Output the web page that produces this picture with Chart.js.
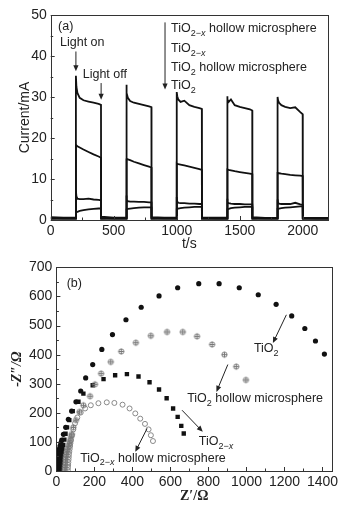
<!DOCTYPE html>
<html>
<head>
<meta charset="utf-8">
<script src="https://cdn.jsdelivr.net/npm/chart.js"></script>
<style>
  body { margin: 0; background: #fff; }
  canvas { display: block; }
</style>
</head>
<body>
<canvas id="currentChart" width="349" height="255"></canvas>
<canvas id="eisChart" width="349" height="250"></canvas>
<script>
// (a) photocurrent on/off cycles
var times = [0, 100,
  199, 200, 204, 212, 230, 260, 300, 340, 380, 399, 400, 500,
  599, 600, 604, 612, 630, 660, 700, 740, 780, 799, 800, 900,
  999, 1000, 1004, 1012, 1030, 1060, 1100, 1140, 1180, 1199, 1200, 1300,
  1399, 1400, 1404, 1412, 1430, 1460, 1500, 1540, 1580, 1599, 1600, 1700,
  1799, 1800, 1804, 1812, 1830, 1860, 1900, 1940, 1980, 1999, 2000, 2100,
  2200];
var hollowTiO2x = [0.7, 0.6,
  0.6, 35.2, 32.5, 31.0, 29.8, 29.2, 28.9, 28.6, 28.3, 28.1, 0.8, 0.6,
  0.6, 33.0, 31.0, 29.8, 29.0, 28.6, 28.3, 28.0, 27.7, 27.5, 0.7, 0.6,
  0.6, 31.2, 30.2, 29.4, 28.8, 29.1, 28.0, 27.6, 27.3, 27.1, 0.6, 0.6,
  0.6, 30.2, 29.4, 28.8, 29.4, 28.0, 27.6, 27.3, 27.0, 26.7, 0.7, 0.5,
  0.5, 30.0, 29.2, 28.6, 28.0, 27.6, 27.3, 27.5, 26.3, 25.8, 0.6, 0.5,
  0.5];
var plainTiO2x = [0.5, 0.4,
  0.4, 18.3, 18.2, 18.0, 17.7, 17.2, 16.6, 16.0, 15.5, 15.2, 0.5, 0.4,
  0.4, 15.0, 14.9, 14.8, 14.6, 14.2, 13.8, 13.4, 13.0, 12.8, 0.5, 0.4,
  0.4, 13.8, 13.7, 13.6, 13.5, 13.3, 13.0, 12.7, 12.4, 12.2, 0.4, 0.4,
  0.4, 12.3, 12.3, 12.2, 12.1, 11.9, 11.7, 11.5, 11.3, 11.2, 0.5, 0.4,
  0.4, 11.5, 11.5, 11.4, 11.3, 11.2, 11.0, 10.9, 10.8, 10.7, 0.4, 0.4,
  0.4];
var hollowTiO2 = [0.4, 0.5,
  0.5, 7.2, 5.8, 5.2, 5.1, 5.1, 5.2, 5.0, 4.9, 4.8, 0.4, 0.5,
  0.5, 6.0, 4.9, 4.6, 4.5, 4.5, 4.4, 4.4, 4.3, 4.3, 0.4, 0.5,
  0.5, 5.6, 4.5, 4.2, 4.1, 4.1, 4.0, 4.0, 3.9, 3.9, 0.5, 0.4,
  0.4, 5.2, 4.3, 4.1, 4.0, 3.9, 3.9, 3.8, 3.8, 3.8, 0.4, 0.5,
  0.5, 5.0, 4.2, 4.0, 3.9, 3.9, 3.9, 4.2, 3.8, 3.7, 0.5, 0.4,
  0.4];
var plainTiO2 = [0.3, 0.3,
  0.3, 1.8, 1.9, 2.0, 2.2, 2.4, 2.6, 2.7, 2.8, 2.8, 0.3, 0.3,
  0.3, 2.5, 2.6, 2.7, 2.8, 2.9, 3.0, 3.1, 3.1, 3.1, 0.3, 0.3,
  0.3, 2.7, 2.8, 2.8, 2.9, 3.0, 3.1, 3.2, 3.2, 3.2, 0.3, 0.3,
  0.3, 2.8, 2.6, 2.7, 2.9, 3.0, 3.1, 3.2, 3.2, 3.2, 0.3, 0.3,
  0.3, 2.7, 2.7, 2.8, 2.9, 3.0, 3.1, 3.2, 3.3, 3.3, 0.3, 0.3,
  0.3];
var timeTicks = [0, 500, 1000, 1500, 2000];
var currentTicks = [0, 10, 20, 30, 40, 50];

// (b) Nyquist plots, Z' and -Z'' in ohm
var tio2Re = [5, 6, 7, 8, 9, 10, 12, 14, 16, 19, 23, 28, 37, 49, 63, 80, 103, 128, 154, 191, 239, 295, 366, 446, 540, 638, 749, 856, 962, 1062, 1156, 1238, 1307, 1363, 1410];
var tio2Im = [3, 11, 19, 28, 37, 46, 56, 66, 76, 86, 96, 106, 126, 150, 178, 206, 238, 275, 320, 366, 418, 469, 520, 563, 602, 630, 644, 644, 630, 606, 573, 533, 490, 447, 402];
var tio2HollowRe = [44, 45, 46, 47, 48, 50, 52, 55, 59, 64, 68, 72, 77, 81, 89, 103, 121, 142, 177, 203, 235, 286, 341, 418, 497, 582, 665, 740, 819, 884, 946, 997];
var tio2HollowIm = [3, 12, 21, 30, 39, 48, 57, 66, 75, 85, 95, 106, 117, 127, 150, 175, 203, 226, 257, 298, 335, 375, 411, 441, 465, 478, 478, 463, 435, 400, 359, 313];
var tio2xRe = [20, 21, 22, 23, 24, 25, 27, 29, 32, 36, 42, 48, 56, 68, 86, 116, 142, 191, 248, 309, 371, 432, 490, 540, 580, 614, 638, 657, 670];
var tio2xIm = [2, 10, 19, 28, 37, 46, 56, 66, 77, 90, 108, 128, 150, 175, 206, 238, 266, 295, 316, 329, 333, 325, 305, 280, 250, 215, 186, 155, 129];
var tio2xHollowRe = [60, 61, 62, 63, 64, 65, 66, 68, 70, 72, 74, 77, 82, 89, 98, 110, 128, 151, 181, 221, 265, 305, 348, 385, 415, 441, 466, 485, 497, 508];
var tio2xHollowIm = [3, 12, 21, 30, 39, 48, 57, 66, 76, 86, 96, 106, 123, 143, 164, 184, 201, 215, 226, 233, 236, 234, 228, 215, 198, 180, 162, 143, 123, 103];
var reTicks = [0, 200, 400, 600, 800, 1000, 1200, 1400];
var imTicks = [0, 100, 200, 300, 400, 500, 600, 700];

var SANS = '"Liberation Sans", Arial, sans-serif';
var SERIF = '"Liberation Serif", "Times New Roman", serif';
Chart.defaults.font.family = SANS;
Chart.defaults.font.size = 14;
Chart.defaults.color = '#222';

function pairs(xs, ys) {
  return xs.map(function (v, i) { return { x: v, y: ys[i] }; });
}

function fixedTicks(values) {
  return function (s) { s.ticks = values.map(function (v) { return { value: v }; }); };
}

function plain(v) { return String(v); }

// text with _{...} subscripts, x inside subscript in italics
function chem(ctx, str, x, y, size) {
  var parts = str.split(/_\{([^}]*)\}/);
  ctx.textBaseline = 'middle';
  ctx.textAlign = 'left';
  ctx.fillStyle = '#222';
  parts.forEach(function (p, i) {
    if (i % 2 === 0) {
      ctx.font = size + 'px ' + SANS;
      ctx.fillText(p, x, y);
      x += ctx.measureText(p).width;
    } else {
      var s = Math.round(size * 0.7);
      for (var ch of p) {
        ctx.font = (ch === 'x' ? 'italic ' : '') + s + 'px ' + SANS;
        ctx.fillText(ch, x, y + size * 0.38);
        x += ctx.measureText(ch).width;
      }
    }
  });
}

function arrow(ctx, x1, y1, x2, y2) {
  var ang = Math.atan2(y2 - y1, x2 - x1), L = 6, W = 2.6;
  ctx.strokeStyle = '#222';
  ctx.fillStyle = '#222';
  ctx.lineWidth = 1;
  ctx.beginPath();
  ctx.moveTo(x1, y1);
  ctx.lineTo(x2 - Math.cos(ang) * L * 0.8, y2 - Math.sin(ang) * L * 0.8);
  ctx.stroke();
  ctx.beginPath();
  ctx.moveTo(x2, y2);
  ctx.lineTo(x2 - Math.cos(ang) * L - Math.sin(ang) * W, y2 - Math.sin(ang) * L + Math.cos(ang) * W);
  ctx.lineTo(x2 - Math.cos(ang) * L + Math.sin(ang) * W, y2 - Math.sin(ang) * L - Math.cos(ang) * W);
  ctx.closePath();
  ctx.fill();
}

// box round the plot with inward ticks
function frameTicks(minorX, minorY) {
  return {
    id: 'frameTicks',
    afterDatasetsDraw: function (chart) {
      var ctx = chart.ctx, a = chart.chartArea, x = chart.scales.x, y = chart.scales.y;
      ctx.save();
      ctx.strokeStyle = '#333';
      ctx.lineWidth = 1;
      ctx.strokeRect(Math.round(a.left) + 0.5, Math.round(a.top) + 0.5,
        Math.round(a.right - a.left), Math.round(a.bottom - a.top));
      ctx.beginPath();
      for (var v = x.min; v <= x.max; v += minorX) {
        var px = Math.round(x.getPixelForValue(v)) + 0.5;
        var len = Math.round(v / minorX) % 2 === 0 ? 4 : 2.5;
        ctx.moveTo(px, a.bottom); ctx.lineTo(px, a.bottom - len);
      }
      for (var w = y.min; w <= y.max; w += minorY) {
        var py = Math.round(y.getPixelForValue(w)) + 0.5;
        var len2 = Math.round(w / minorY) % 2 === 0 ? 4 : 2.5;
        ctx.moveTo(a.left, py); ctx.lineTo(a.left + len2, py);
      }
      ctx.stroke();
      ctx.restore();
    }
  };
}

function notes(arrows, labels, size) {
  return {
    id: 'notes',
    afterDatasetsDraw: function (chart) {
      var ctx = chart.ctx, x = chart.scales.x, y = chart.scales.y;
      ctx.save();
      arrows.forEach(function (a) {
        arrow(ctx, x.getPixelForValue(a[0]), y.getPixelForValue(a[1]),
          x.getPixelForValue(a[2]), y.getPixelForValue(a[3]));
      });
      labels.forEach(function (l) {
        chem(ctx, l[0], x.getPixelForValue(l[1]), y.getPixelForValue(l[2]), size);
      });
      ctx.restore();
    }
  };
}

function plusCircle(r, color) {
  var c = document.createElement('canvas');
  var s = Math.ceil(2 * r + 3);
  c.width = c.height = s;
  var g = c.getContext('2d');
  g.strokeStyle = color;
  g.lineWidth = 1;
  g.beginPath();
  g.arc(s / 2, s / 2, r, 0, 2 * Math.PI);
  g.moveTo(s / 2 - r, s / 2); g.lineTo(s / 2 + r, s / 2);
  g.moveTo(s / 2, s / 2 - r); g.lineTo(s / 2, s / 2 + r);
  g.stroke();
  return c;
}

function lineSet(values) {
  return {
    data: pairs(times, values),
    borderColor: '#111',
    borderWidth: 1.8,
    pointRadius: 0,
    tension: 0
  };
}

//build photocurrent graph
new Chart(document.getElementById('currentChart'), {
  type: 'line',
  data: {
    datasets: [lineSet(hollowTiO2x), lineSet(plainTiO2x), lineSet(hollowTiO2), lineSet(plainTiO2)]
  },
  options: {
    responsive: false,
    animation: false,
    layout: { padding: { top: 15, right: 21, left: 0, bottom: 0 } },
    plugins: { legend: { display: false }, tooltip: { enabled: false } },
    scales: {
      x: {
        type: 'linear', min: 0, max: 2200,
        afterBuildTicks: fixedTicks(timeTicks),
        afterFit: function (s) { s.height = 35; },
        ticks: { padding: 3, maxRotation: 0, autoSkip: false, callback: plain },
        grid: { display: false, drawTicks: false },
        border: { display: false },
        title: { display: true, text: 't/s', padding: { top: 0, bottom: 2 }, font: { size: 14 } }
      },
      y: {
        min: 0, max: 50,
        afterBuildTicks: fixedTicks(currentTicks),
        afterFit: function (s) { s.width = 50.7; },
        ticks: { padding: 4, autoSkip: false, callback: plain },
        grid: { display: false, drawTicks: false },
        border: { display: false },
        title: { display: true, text: 'Current/mA', padding: { top: 17, bottom: 0 }, font: { size: 14 } }
      }
    }
  },
  plugins: [
    frameTicks(250, 5),
    notes(
      [[200, 41.1, 200, 36.3], [400, 33.4, 400, 29.3], [907, 48.2, 907, 31.8]],
      [['(a)', 58, 47.2], ['Light on', 74, 43.2], ['Light off', 254, 35.5],
       ['TiO_{2−x} hollow microsphere', 955, 46.6], ['TiO_{2−x}', 955, 41.7],
       ['TiO_{2} hollow microsphere', 955, 37.1], ['TiO_{2}', 955, 32.8]],
      12.5)
  ]
});

//build impedance graph
new Chart(document.getElementById('eisChart'), {
  type: 'scatter',
  data: {
    datasets: [{
      data: pairs(tio2Re, tio2Im),
      pointStyle: 'circle', pointRadius: 2.6, borderWidth: 0,
      backgroundColor: '#111', borderColor: '#111'
    }, {
      data: pairs(tio2HollowRe, tio2HollowIm),
      pointStyle: plusCircle(2.6, '#777'), pointRadius: 3
    }, {
      data: pairs(tio2xRe, tio2xIm),
      pointStyle: 'rect', pointRadius: 3.1, borderWidth: 0,
      backgroundColor: '#111', borderColor: '#111'
    }, {
      data: pairs(tio2xHollowRe, tio2xHollowIm),
      pointStyle: 'circle', pointRadius: 2.5, borderWidth: 1,
      backgroundColor: 'rgba(255,255,255,0)', borderColor: '#888'
    }]
  },
  options: {
    responsive: false,
    animation: false,
    layout: { padding: { top: 11.7, right: 17, left: 0, bottom: 0 } },
    plugins: { legend: { display: false }, tooltip: { enabled: false } },
    scales: {
      x: {
        type: 'linear', min: 0, max: 1450,
        afterBuildTicks: fixedTicks(reTicks),
        afterFit: function (s) { s.height = 34; },
        ticks: { padding: 3, maxRotation: 0, autoSkip: false, callback: plain },
        grid: { display: false, drawTicks: false },
        border: { display: false },
        title: { display: true, text: 'Z′/Ω', padding: { top: 0, bottom: 0 },
          font: { family: SERIF, size: 14, weight: 'bold' } }
      },
      y: {
        min: 0, max: 700,
        afterBuildTicks: fixedTicks(imTicks),
        afterFit: function (s) { s.width = 56.4; },
        ticks: { padding: 4, autoSkip: false, callback: plain },
        grid: { display: false, drawTicks: false },
        border: { display: false },
        title: { display: true, text: '-Z″/Ω', padding: { top: 9, bottom: 0 },
          font: { family: SERIF, size: 14, weight: 'bold', style: 'italic' } }
      }
    }
  },
  plugins: [
    frameTicks(100, 50),
    notes(
      [[1210, 537, 1139, 440], [902, 366, 842, 272], [661, 209, 770, 135], [477, 146, 415, 66]],
      [['(b)', 54, 644], ['TiO_{2}', 1039, 421], ['TiO_{2} hollow microsphere', 688, 249],
       ['TiO_{2−x}', 749, 100], ['TiO_{2−x} hollow microsphere', 125, 44]],
      12.5)
  ]
});
</script>
</body>
</html>
